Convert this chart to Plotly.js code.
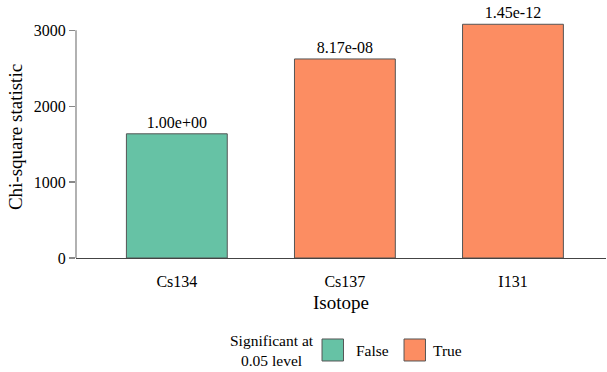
<!DOCTYPE html>
<html>
<head>
<meta charset="utf-8">
<script src="https://cdn.plot.ly/plotly-3.0.1.min.js"></script>
<style>html,body{margin:0;padding:0;background:#fff;}#chart{width:607px;height:372px;}</style>
</head>
<body>
<div id="chart"></div>
<script>
// ---- data ----
const isotopes = ['Cs134', 'Cs137', 'I131'];
const chiSquare = [1636, 2622, 3079];
const pValueLabels = ['1.00e+00', '8.17e-08', '1.45e-12'];
const significant = [false, true, true];
const legendGroups = ['False', 'True'];
const legendTitle = 'Significant at<br>0.05 level';
const yTicks = [0, 1000, 2000, 3000];

// ---- styles ----
const FONT = 'Liberation Serif';
const colorFor = { 'False': '#66c2a5', 'True': '#fc8d62' };
const barColors = significant.map(s => colorFor[s ? 'True' : 'False']);

const trace = {
  type: 'bar',
  x: isotopes,
  y: chiSquare,
  width: 0.6,
  text: pValueLabels,
  textposition: 'outside',
  cliponaxis: false,
  textfont: { family: FONT, size: 16, color: '#000' },
  marker: { color: barColors, line: { color: '#555', width: 1 } },
  hoverinfo: 'x+y',
  showlegend: false
};

const shapes = [
  { type: 'line', xref: 'paper', yref: 'y', x0: 0, x1: 0, y0: yTicks[0], y1: yTicks[yTicks.length - 1],
    line: { color: '#888', width: 1.3 } }
];
const annotations = [
  { xref: 'paper', yref: 'paper', x: 0.3698, y: -0.3802, text: legendTitle, showarrow: false,
    xanchor: 'center', yanchor: 'middle', align: 'center',
    font: { family: FONT, size: 15.5, color: '#000' } }
];
const swatchX = [0.4642, 0.6189];
const textX = [0.5245, 0.6698];
legendGroups.forEach((g, i) => {
  shapes.push({ type: 'rect', xref: 'paper', yref: 'paper',
    x0: swatchX[i], x1: swatchX[i] + 0.0405, y0: -0.4256, y1: -0.3347,
    fillcolor: colorFor[g], line: { color: '#555', width: 1 } });
  annotations.push({ xref: 'paper', yref: 'paper', x: textX[i], y: -0.3802, text: g,
    showarrow: false, xanchor: 'left', yanchor: 'middle',
    font: { family: FONT, size: 15.5, color: '#000' } });
});

const layout = {
  width: 607, height: 372,
  margin: { l: 76, r: 1, t: 16, b: 114, pad: 0 },
  paper_bgcolor: '#fff', plot_bgcolor: '#fff',
  font: { family: FONT, size: 16, color: '#000' },
  showlegend: false,
  xaxis: {
    range: [-0.6, 2.5536],
    showline: true, linecolor: '#444', linewidth: 1.3,
    ticks: '', showgrid: false, zeroline: false,
    tickfont: { family: FONT, size: 16, color: '#000' },
    ticklabelstandoff: 8,
    title: { text: 'Isotope', font: { family: FONT, size: 19, color: '#000' }, standoff: 7 }
  },
  yaxis: {
    range: [0, 3188],
    tickvals: yTicks,
    ticktext: yTicks.map(String),
    showline: false, zeroline: false,
    ticks: 'outside', ticklen: 6, tickcolor: '#888', tickwidth: 1.2,
    showgrid: false,
    tickfont: { family: FONT, size: 16, color: '#000' },
    title: { text: 'Chi-square statistic', font: { family: FONT, size: 19, color: '#000' }, standoff: 6 }
  },
  shapes: shapes,
  annotations: annotations
};

Plotly.newPlot('chart', [trace], layout, { displayModeBar: false, staticPlot: true });
</script>
</body>
</html>
